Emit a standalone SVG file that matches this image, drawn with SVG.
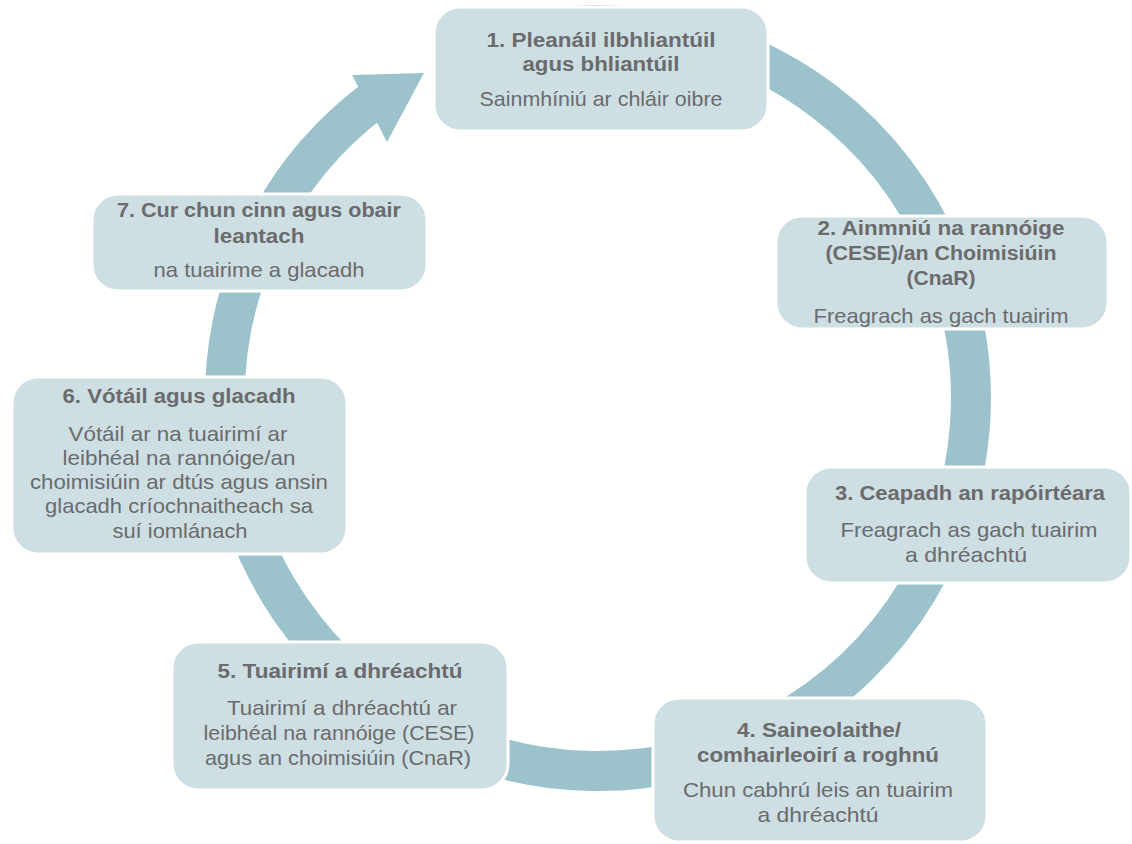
<svg xmlns="http://www.w3.org/2000/svg" width="1132" height="844" viewBox="0 0 1132 844">
<style>
.box{fill:#cddfe3;stroke:#ffffff;stroke-width:3}
.t{font-family:"Liberation Sans",Arial,sans-serif;font-weight:bold;font-size:20px;fill:#6b6b6d;text-anchor:middle}
.b{font-family:"Liberation Sans",Arial,sans-serif;font-size:21px;fill:#6b6b6d;text-anchor:middle}
.ring{fill:none;stroke:#9cc3cc;stroke-width:40}
</style>
<rect width="1132" height="844" fill="#ffffff"/>
<g id="connectors">
<path class="ring" d="M 470.4 47.5 A 373 373 0 1 1 373.5 100.1"/>
<polygon points="352,75 424,73 387,142" fill="#9cc3cc"/>
</g>
<g id="node1">
<rect class="box" x="434" y="7" width="334" height="124" rx="26"/>
<text class="t" x="601" y="47" textLength="229" lengthAdjust="spacingAndGlyphs">1. Pleanáil ilbhliantúil</text>
<text class="t" x="601" y="71" textLength="157" lengthAdjust="spacingAndGlyphs">agus bhliantúil</text>
<text class="b" x="601" y="106" textLength="243" lengthAdjust="spacingAndGlyphs">Sainmhíniú ar chláir oibre</text>
</g>
<g id="node2">
<rect class="box" x="776" y="216" width="332" height="113" rx="26"/>
<text class="t" x="941" y="235" textLength="247" lengthAdjust="spacingAndGlyphs">2. Ainmniú na rannóige</text>
<text class="t" x="941" y="260" textLength="231" lengthAdjust="spacingAndGlyphs">(CESE)/an Choimisiúin</text>
<text class="t" x="941" y="285" textLength="69" lengthAdjust="spacingAndGlyphs">(CnaR)</text>
<text class="b" x="941" y="323" textLength="255" lengthAdjust="spacingAndGlyphs">Freagrach as gach tuairim</text>
</g>
<g id="node3">
<rect class="box" x="805" y="467" width="326" height="116" rx="26"/>
<text class="t" x="970" y="500" textLength="270" lengthAdjust="spacingAndGlyphs">3. Ceapadh an rapóirtéara</text>
<text class="b" x="969" y="537" textLength="257" lengthAdjust="spacingAndGlyphs">Freagrach as gach tuairim</text>
<text class="b" x="966" y="562" textLength="122" lengthAdjust="spacingAndGlyphs">a dhréachtú</text>
</g>
<g id="node4">
<rect class="box" x="653" y="698" width="334" height="144" rx="26"/>
<text class="t" x="819" y="737" textLength="164" lengthAdjust="spacingAndGlyphs">4. Saineolaithe/</text>
<text class="t" x="818" y="762" textLength="242" lengthAdjust="spacingAndGlyphs">comhairleoirí a roghnú</text>
<text class="b" x="818" y="797" textLength="270" lengthAdjust="spacingAndGlyphs">Chun cabhrú leis an tuairim</text>
<text class="b" x="818" y="822" textLength="121" lengthAdjust="spacingAndGlyphs">a dhréachtú</text>
</g>
<g id="node5">
<rect class="box" x="172" y="642" width="336" height="148" rx="26"/>
<text class="t" x="340" y="678" textLength="245" lengthAdjust="spacingAndGlyphs">5. Tuairimí a dhréachtú</text>
<text class="b" x="342" y="715" textLength="230" lengthAdjust="spacingAndGlyphs">Tuairimí a dhréachtú ar</text>
<text class="b" x="339" y="740" textLength="271" lengthAdjust="spacingAndGlyphs">leibhéal na rannóige (CESE)</text>
<text class="b" x="338" y="765" textLength="266" lengthAdjust="spacingAndGlyphs">agus an choimisiúin (CnaR)</text>
</g>
<g id="node6">
<rect class="box" x="12" y="377" width="335" height="177" rx="26"/>
<text class="t" x="179" y="403" textLength="233" lengthAdjust="spacingAndGlyphs">6. Vótáil agus glacadh</text>
<text class="b" x="178" y="441" textLength="219" lengthAdjust="spacingAndGlyphs">Vótáil ar na tuairimí ar</text>
<text class="b" x="179" y="465" textLength="233" lengthAdjust="spacingAndGlyphs">leibhéal na rannóige/an</text>
<text class="b" x="179" y="489" textLength="298" lengthAdjust="spacingAndGlyphs">choimisiúin ar dtús agus ansin</text>
<text class="b" x="179" y="513" textLength="268" lengthAdjust="spacingAndGlyphs">glacadh críochnaitheach sa</text>
<text class="b" x="180" y="538" textLength="135" lengthAdjust="spacingAndGlyphs">suí iomlánach</text>
</g>
<g id="node7">
<rect class="box" x="92" y="194" width="335" height="97" rx="26"/>
<text class="t" x="259" y="217" textLength="284" lengthAdjust="spacingAndGlyphs">7. Cur chun cinn agus obair</text>
<text class="t" x="259" y="243" textLength="91" lengthAdjust="spacingAndGlyphs">leantach</text>
<text class="b" x="259" y="277" textLength="211" lengthAdjust="spacingAndGlyphs">na tuairime a glacadh</text>
</g>
</svg>
